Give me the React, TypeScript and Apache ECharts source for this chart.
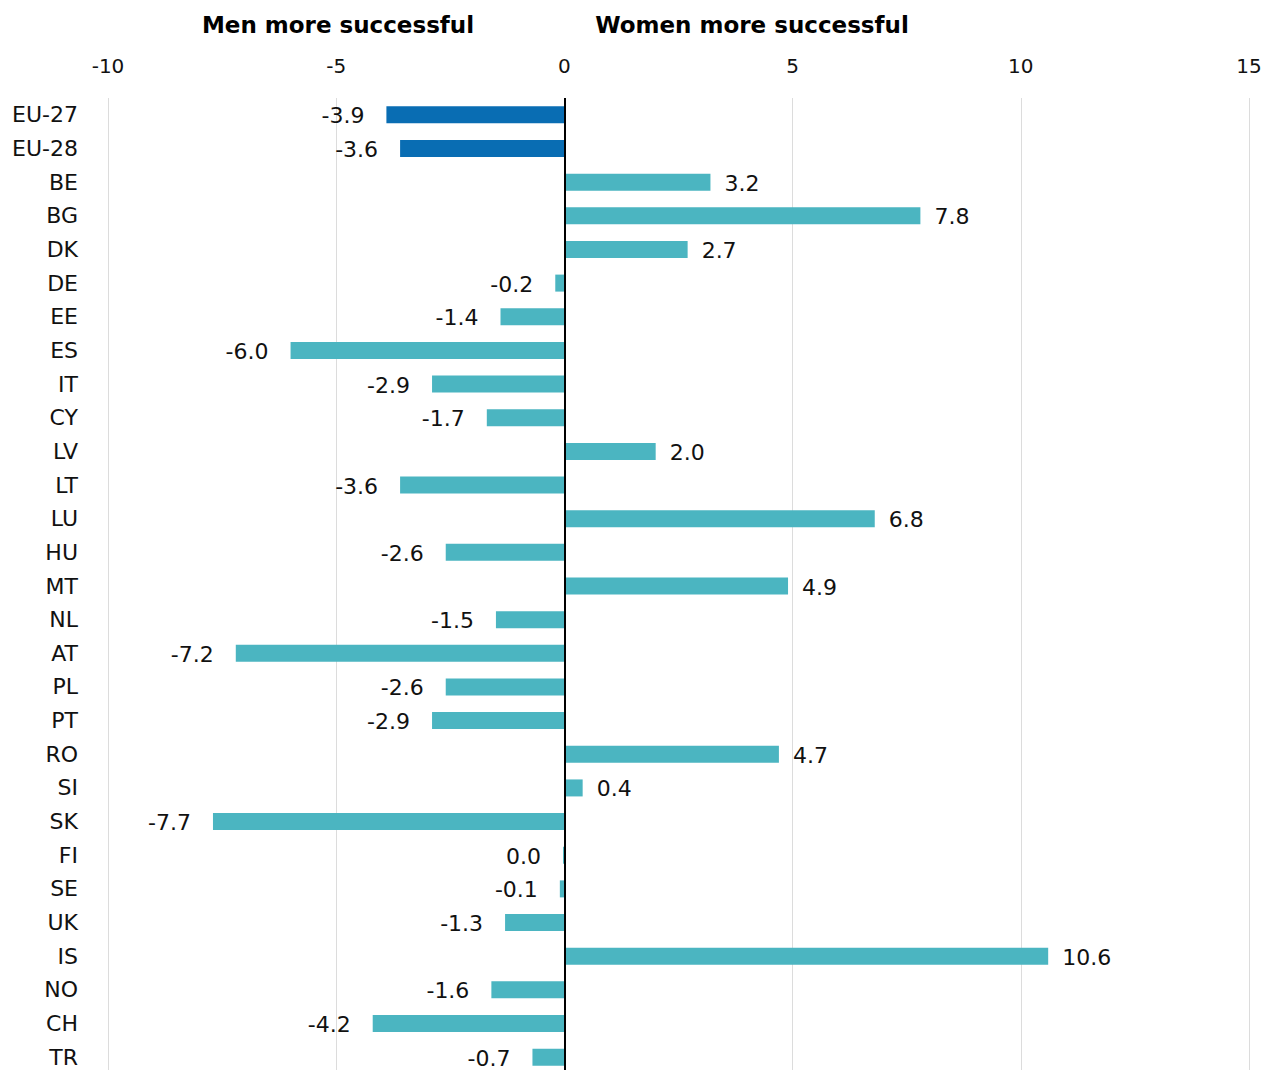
import React, { useEffect, useRef } from "react";
import * as echarts from "echarts";

const categories = ["EU-27", "EU-28", "BE", "BG", "DK", "DE", "EE", "ES", "IT", "CY", "LV", "LT", "LU", "HU", "MT", "NL", "AT", "PL", "PT", "RO", "SI", "SK", "FI", "SE", "UK", "IS", "NO", "CH", "TR"];
const values = [-3.9, -3.6, 3.2, 7.8, 2.7, -0.2, -1.4, -6.0, -2.9, -1.7, 2.0, -3.6, 6.8, -2.6, 4.9, -1.5, -7.2, -2.6, -2.9, 4.7, 0.4, -7.7, -0.03, -0.1, -1.3, 10.6, -1.6, -4.2, -0.7];
const highlighted = ["EU-27", "EU-28"];
const titleLeft = "Men more successful";
const titleRight = "Women more successful";

const FONT = "DejaVu Sans";
const TITLE_FONT = "DejaVu Sans";

export default function App() {
  const ref = useRef<HTMLDivElement>(null);
  useEffect(() => {
    const chart = echarts.init(ref.current!, null, { renderer: "svg" });
    const data = values.map((v, i) => ({
      value: v,
      itemStyle: { color: highlighted.includes(categories[i]) ? "#096db3" : "#4bb5c1" },
      label: { position: v < 0 ? "left" : "right", distance: v < 0 ? 22 : 14 },
    }));
    chart.setOption({
      animation: false,
      textStyle: { fontFamily: FONT },
      title: [
        { text: titleLeft, left: 333, top: 8, textAlign: "center", textStyle: { fontFamily: TITLE_FONT, fontWeight: "bold", fontSize: 23, color: "#000" } },
        { text: titleRight, left: 747, top: 8, textAlign: "center", textStyle: { fontFamily: TITLE_FONT, fontWeight: "bold", fontSize: 23, color: "#000" } },
      ],
      grid: { left: 108, right: 24, top: 98, bottom: 0, containLabel: false },
      xAxis: {
        type: "value",
        position: "top",
        min: -10,
        max: 15,
        interval: 5,
        axisLine: { show: false },
        axisTick: { show: false },
        axisLabel: { fontSize: 20, color: "#111", margin: 22, fontFamily: FONT },
        splitLine: { lineStyle: { color: "#dcdcdc", width: 1 } },
      },
      yAxis: {
        type: "category",
        data: categories,
        inverse: true,
        axisLine: { show: false },
        axisTick: { show: false },
        axisLabel: { fontSize: 22, color: "#111", margin: 30, fontFamily: FONT },
      },
      series: [
        {
          type: "bar",
          data,
          barWidth: 17,
          label: {
            show: true,
            fontSize: 22,
            color: "#111",
            offset: [0, 1],
            fontFamily: FONT,
            formatter: (p: any) => (Math.round(p.value * 10) / 10).toFixed(1),
          },
          markLine: {
            silent: true,
            symbol: "none",
            label: { show: false },
            lineStyle: { color: "#000", width: 2, type: "solid" },
            data: [{ xAxis: 0 }],
          },
        },
      ],
    });
    return () => chart.dispose();
  }, []);
  return (
    <div style={{ position: "absolute", left: 0, top: 0, width: 1273, height: 1070, overflow: "hidden" }}>
      <div ref={ref} style={{ position: "absolute", left: 0, top: 0, width: 1273, height: 1074 }} />
    </div>
  );
}
